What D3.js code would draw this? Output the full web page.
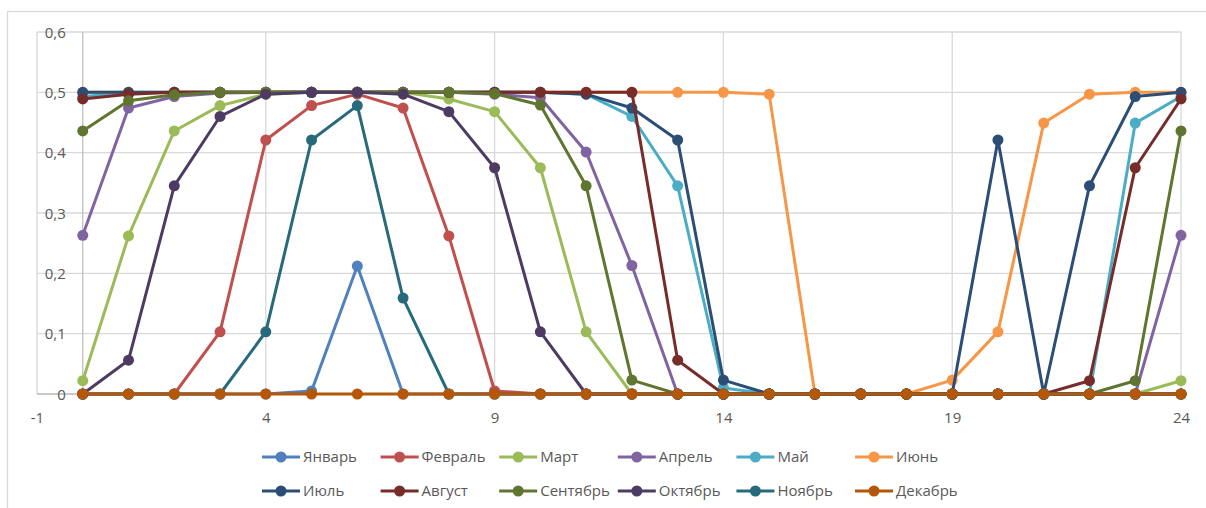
<!DOCTYPE html>
<html>
<head>
<meta charset="utf-8">
<script src="https://cdn.jsdelivr.net/npm/d3@7"></script>
<style>
  html, body { margin: 0; padding: 0; background: #fff; }
  svg { display: block; }
  text { font-family: "Open Sans", "Noto Sans", sans-serif; fill: #595959; }
</style>
</head>
<body>
<svg id="chart" width="1206" height="508"></svg>
<script>
// Hour of day (x values)
const hours = [0,1,2,3,4,5,6,7,8,9,10,11,12,13,14,15,16,17,18,19,20,21,22,23,24];

// Monthly series
const jan = [0,0,0,0,0,0.005,0.212,0,0,0,0,0,0,0,0,0,0,0,0,0,0,0,0,0,0];
const feb = [0,0,0,0.103,0.421,0.478,0.497,0.474,0.262,0.005,0,0,0,0,0,0,0,0,0,0,0,0,0,0,0];
const mar = [0.022,0.262,0.436,0.478,0.497,0.5,0.5,0.5,0.489,0.468,0.375,0.103,0,0,0,0,0,0,0,0,0,0,0,0,0.022];
const apr = [0.263,0.474,0.493,0.499,0.5,0.5,0.5,0.5,0.5,0.497,0.491,0.401,0.213,0,0,0,0,0,0,0,0,0,0,0,0.263];
const may = [0.493,0.499,0.5,0.5,0.5,0.5,0.5,0.5,0.5,0.5,0.5,0.497,0.46,0.345,0.01,0,0,0,0,0,0,0,0,0.449,0.493];
const jun = [0.5,0.5,0.5,0.5,0.5,0.5,0.5,0.5,0.5,0.5,0.5,0.5,0.5,0.5,0.5,0.497,0,0,0,0.023,0.103,0.449,0.497,0.5,0.5];
const jul = [0.5,0.5,0.5,0.5,0.5,0.5,0.5,0.5,0.5,0.5,0.5,0.497,0.474,0.421,0.023,0,0,0,0,0,0.421,0,0.345,0.493,0.5];
const aug = [0.489,0.497,0.5,0.5,0.5,0.5,0.5,0.5,0.5,0.5,0.5,0.5,0.5,0.056,0,0,0,0,0,0,0,0,0.022,0.375,0.489];
const sep = [0.436,0.486,0.496,0.5,0.5,0.5,0.5,0.5,0.5,0.498,0.479,0.345,0.023,0,0,0,0,0,0,0,0,0,0,0.022,0.436];
const oct = [0,0.056,0.345,0.46,0.497,0.5,0.5,0.497,0.468,0.375,0.103,0,0,0,0,0,0,0,0,0,0,0,0,0,0];
const nov = [0,0,0,0,0.103,0.421,0.478,0.159,0,0,0,0,0,0,0,0,0,0,0,0,0,0,0,0,0];
const dec = [0,0,0,0,0,0,0,0,0,0,0,0,0,0,0,0,0,0,0,0,0,0,0,0,0];

const monthNames = ["Январь","Февраль","Март","Апрель","Май","Июнь","Июль","Август","Сентябрь","Октябрь","Ноябрь","Декабрь"];
const monthValues = [jan,feb,mar,apr,may,jun,jul,aug,sep,oct,nov,dec];
const monthColors = ["#4F81BD","#C0504D","#9BBB59","#8064A2","#4BACC6","#F79646",
                     "#2C4D75","#772C2A","#5F7530","#4D3B62","#276A7C","#B65708"];

const xTicks = [-1,4,9,14,19,24];
const yTicks = [0,0.1,0.2,0.3,0.4,0.5,0.6];

const svg = d3.select("#chart");

// outer chart frame
svg.append("rect")
  .attr("x", 7.5).attr("y", 11.5)
  .attr("width", 1210).attr("height", 510)
  .attr("fill", "none").attr("stroke", "#d9d9d9").attr("stroke-width", 1.3);

const x = d3.scaleLinear().domain([-1, 24]).range([37, 1181]);
const y = d3.scaleLinear().domain([0, 0.6]).range([394, 32]);

const fmt = v => d3.format(".1~f")(v).replace(".", ",");

// gridlines
const grid = svg.append("g");
grid.selectAll("line.h").data(yTicks).join("line")
  .attr("x1", x(-1)).attr("x2", x(24))
  .attr("y1", d => y(d)).attr("y2", d => y(d))
  .attr("stroke", "#d9d9d9").attr("stroke-width", 1.3);
grid.selectAll("line.v").data(xTicks).join("line")
  .attr("x1", d => x(d)).attr("x2", d => x(d))
  .attr("y1", y(0.6)).attr("y2", y(0))
  .attr("stroke", "#d9d9d9").attr("stroke-width", 1.3);

// axes crossing at (0, 0)
svg.append("line")
  .attr("x1", x(0)).attr("x2", x(0)).attr("y1", y(0.6)).attr("y2", y(0))
  .attr("stroke", "#bfbfbf").attr("stroke-width", 1.3);
svg.append("line")
  .attr("x1", x(-1)).attr("x2", x(24)).attr("y1", y(0)).attr("y2", y(0))
  .attr("stroke", "#bfbfbf").attr("stroke-width", 1.3);

// y tick labels (placed beside the vertical axis)
const yAxis = d3.axisLeft(y).tickValues(yTicks).tickFormat(fmt).tickSize(0).tickPadding(0);
const yg = svg.append("g").attr("transform", `translate(${x(0) - 17},0)`).call(yAxis);
yg.select(".domain").remove();
yg.selectAll("text").attr("font-size", 15).attr("fill", "#595959")
  .attr("font-family", "'Open Sans', sans-serif").attr("dy", "0.34em");

// x tick labels
const xAxis = d3.axisBottom(x).tickValues(xTicks).tickFormat(d => String(d)).tickSize(0).tickPadding(0);
const xg = svg.append("g").attr("transform", `translate(0,${y(0) + 18})`).call(xAxis);
xg.select(".domain").remove();
xg.selectAll("text").attr("font-size", 15).attr("fill", "#595959")
  .attr("font-family", "'Open Sans', sans-serif").attr("dy", "0.71em");

// series lines and markers
const line = d3.line().x((d, i) => x(hours[i])).y(d => y(d));
monthValues.forEach((vals, k) => {
  const g = svg.append("g");
  g.append("path").attr("d", line(vals))
    .attr("fill", "none").attr("stroke", monthColors[k])
    .attr("stroke-width", 3).attr("stroke-linejoin", "round");
  g.selectAll("circle").data(vals).join("circle")
    .attr("cx", (d, i) => x(hours[i])).attr("cy", d => y(d))
    .attr("r", 5.5).attr("fill", monthColors[k]);
});

// legend: two rows of six
const legend = svg.append("g");
monthNames.forEach((name, k) => {
  const col = k % 6, row = Math.floor(k / 6);
  const lx = 262 + col * 118.6, ly = 457 + row * 34;
  const item = legend.append("g").attr("transform", `translate(${lx},${ly})`);
  item.append("line").attr("x1", 0).attr("x2", 38).attr("y1", 0).attr("y2", 0)
    .attr("stroke", monthColors[k]).attr("stroke-width", 3);
  item.append("circle").attr("cx", 19).attr("cy", 0).attr("r", 5.5).attr("fill", monthColors[k]);
  item.append("text").attr("x", 41).attr("y", 0).attr("dy", "0.35em")
    .attr("font-size", 15).text(name);
});
</script>
</body>
</html>
